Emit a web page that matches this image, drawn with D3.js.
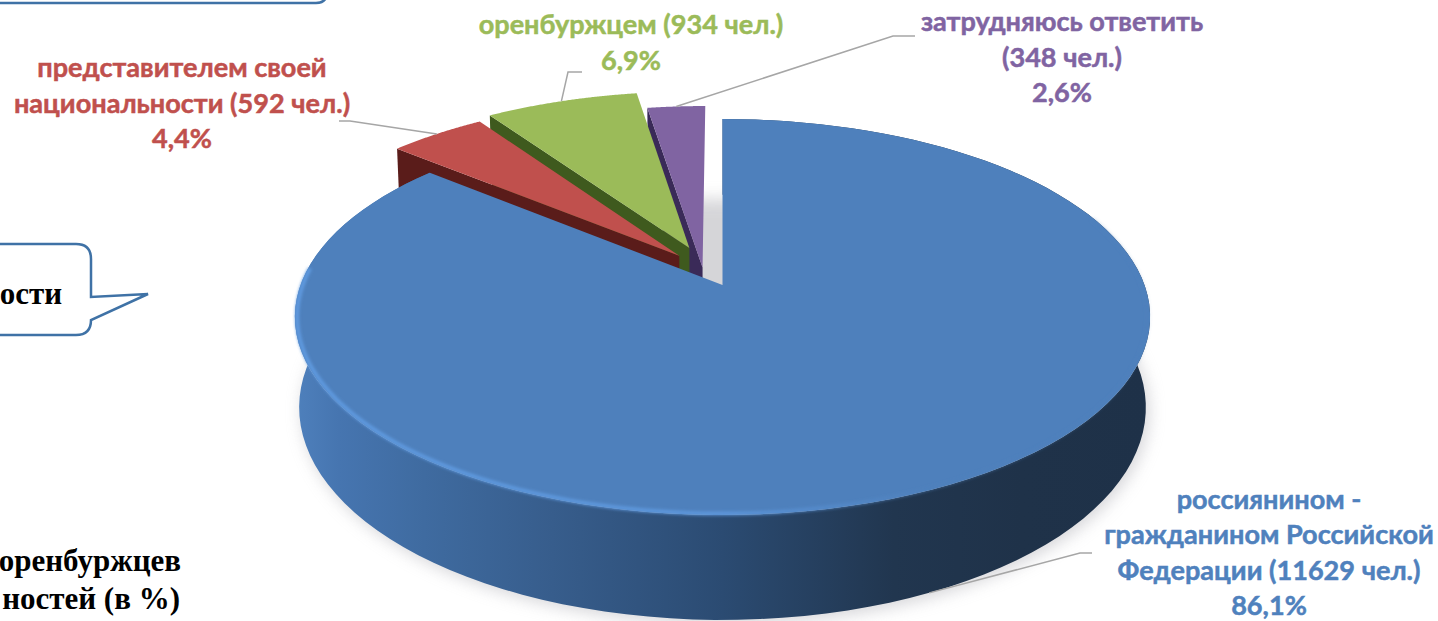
<!DOCTYPE html>
<html><head><meta charset="utf-8">
<script src="https://cdn.jsdelivr.net/npm/d3@7/dist/d3.min.js"></script>
<style>html,body{margin:0;padding:0;background:#fff;overflow:hidden}svg{display:block}</style>
</head><body><svg id="c" width="1438" height="621"></svg>
<script>
const categories = ["россиянином - гражданином Российской Федерации","представителем своей национальности","оренбуржцем","затрудняюсь ответить"];
const counts = [11629, 592, 934, 348];
const percents = ["86,1%","4,4%","6,9%","2,6%"];
const labelLines = [
  ["россиянином -","гражданином Российской","Федерации (11629 чел.)","86,1%"],
  ["представителем своей","национальности (592 чел.)","4,4%"],
  ["оренбуржцем (934 чел.)","6,9%"],
  ["затрудняюсь ответить","(348 чел.)","2,6%"]
];
const topColors = ["#4e80bc","#c0504d","#9bbb59","#8064a2"];
const sideColors = ["#3a6090","#5a1c1a","#3f5a1e","#3a2a58"];
const labelColors = ["#4f81bd","#c0504d","#9bbb59","#8064a2"];
const explodeU = [0,-0.105,-0.081,-0.048];
const explodeV = [0,-0.155,-0.198,-0.092];
const labelX = [1269,182,631,1062];
const labelY = [508.5,77,34,31];
const labelDY = 35.6;
const leaderElbows = [[[1092,553],[1080,553]],[[339,121],[350,121]],[[582,72],[568,72]],[[915,36],[893,36]]];

const svg = d3.select("#c");
const defs = svg.append("defs");
const blur = (id,s)=>defs.append("filter").attr("id",id).attr("x","-20%").attr("y","-20%").attr("width","140%").attr("height","140%")
  .append("feGaussianBlur").attr("stdDeviation",s);
blur("sh",8); blur("rim",1.6);
const g = defs.append("linearGradient").attr("id","wall").attr("gradientUnits","userSpaceOnUse").attr("x1",296).attr("x2",1150).attr("y1",0).attr("y2",0);
[[0,"#4e80bc"],[.05,"#4675b0"],[.15,"#3f6ba0"],[.3,"#375d8c"],[.5,"#2b4b72"],[.7,"#21364f"],[.85,"#1f3249"],[1,"#1e3148"]]
 .forEach(([o,c])=>g.append("stop").attr("offset",o).attr("stop-color",c));
const rg = defs.append("linearGradient").attr("id","rimg").attr("gradientUnits","userSpaceOnUse").attr("x1",296).attr("x2",1150).attr("y1",0).attr("y2",0);
[[0,"#5f9ae0",1],[.5,"#5f9ae0",.85],[.75,"#4e80bc",.5],[1,"#4e80bc",.2]]
 .forEach(([o,c,a])=>rg.append("stop").attr("offset",o).attr("stop-color",c).attr("stop-opacity",a));

// perspective projection of the pie disc
const k=0.1616, b=192.8, c=422, x0=722.5, y0=285, depth=88;
const top3 = (u,v)=>{const w=1-k*v;return [x0+c*u/w,y0+b*v/w];};
const bot3 = (u,v)=>{const w=1-k*v;return [x0+0.99*c*u/w,y0+(b*v+depth)/w];};
const pt = (proj,a,r,i)=>proj(r*Math.sin(a)+explodeU[i],-r*Math.cos(a)+explodeV[i]);
const arcs = d3.pie().sort(null).startAngle(0).endAngle(2*Math.PI)(counts);
const line = d3.line();
const samples = (a0,a1)=>d3.range(0,121).map(t=>a0+(a1-a0)*t/120);
const topPath = (d,i)=>[pt(top3,0,0,i),...samples(d.startAngle,d.endAngle).map(a=>pt(top3,a,1,i))];

// ground shadow
svg.append("path").attr("d",line(samples(0,2*Math.PI).map(a=>{const p=pt(bot3,a,1,0);return [p[0]+3,p[1]+4];}))+"Z")
  .attr("fill","#b4b4ba").attr("opacity",.55).attr("filter","url(#sh)");

// small slices, back to front
[3,2,1].forEach(i=>{
  const d=arcs[i];
  const o=pt(top3,d.startAngle,1,i), a=pt(top3,0,0,i), ob=pt(bot3,d.startAngle,1,i), ab=pt(bot3,0,0,i);
  svg.append("path").attr("d",line([o,a,ab,ob])+"Z").attr("fill",sideColors[i]);
  svg.append("path").attr("d",line(topPath(d,i))+"Z").attr("fill",topColors[i]);
});

// main slice
const d0=arcs[0];
const wallPts=[...samples(d0.startAngle,d0.endAngle).map(a=>pt(top3,a,1,0)),...samples(d0.endAngle,d0.startAngle).map(a=>pt(bot3,a,1,0))];
svg.append("path").attr("d",line(wallPts)+"Z").attr("fill","url(#wall)");
svg.append("path").attr("d",line(topPath(d0,0))+"Z").attr("fill",topColors[0]);
svg.append("path").attr("d",line(samples(1.2,4.8).map(a=>pt(top3,a,0.995,0))))
  .attr("fill","none").attr("stroke","url(#rimg)").attr("stroke-width",4).attr("filter","url(#rim)");

// leader lines
const grey="#a6a6a6";
leaderElbows.forEach((e,i)=>{
  const mid=(arcs[i].startAngle+arcs[i].endAngle)/2;
  const end=i===0?pt(bot3,mid,1,i):pt(top3,mid,1,i);
  svg.append("path").attr("d",line([...e,end])).attr("fill","none").attr("stroke",grey).attr("stroke-width",1.5);
});

// data labels
labelLines.forEach((ls,i)=>{
  const t=svg.append("text").attr("text-anchor","middle").attr("fill",labelColors[i]).attr("stroke",labelColors[i]).attr("stroke-width",0.5)
    .attr("font-family","Lato, 'Open Sans', sans-serif").attr("font-weight",700).attr("font-size",27.1);
  ls.forEach((s,j)=>t.append("tspan").attr("x",labelX[i]).attr("y",labelY[i]+j*labelDY).text(s));
});

// callouts
const callStroke="#3f72a6";
svg.append("path").attr("d","M-20,-40 H327 V-8 Q327,3 316,3 H-20 Z").attr("fill","#fff").attr("stroke",callStroke).attr("stroke-width",2.5);
svg.append("path").attr("d","M-20,244 H76 Q91,244 91,259 V297 L148,294 L91,320 Q91,335 76,335 H-20 Z").attr("fill","#fff").attr("stroke",callStroke).attr("stroke-width",2.5);
const serif="'Liberation Serif','Times New Roman',serif";
const txt=(s,x,y,fs)=>svg.append("text").attr("x",x).attr("y",y).attr("text-anchor","end").attr("font-family",serif).attr("font-weight",700).attr("font-size",fs).attr("fill","#000").text(s);
txt("ости",62,304,31);
txt("оренбуржцев",181,571,31);
txt("ностей (в %)",180,609,31);
</script></body></html>
